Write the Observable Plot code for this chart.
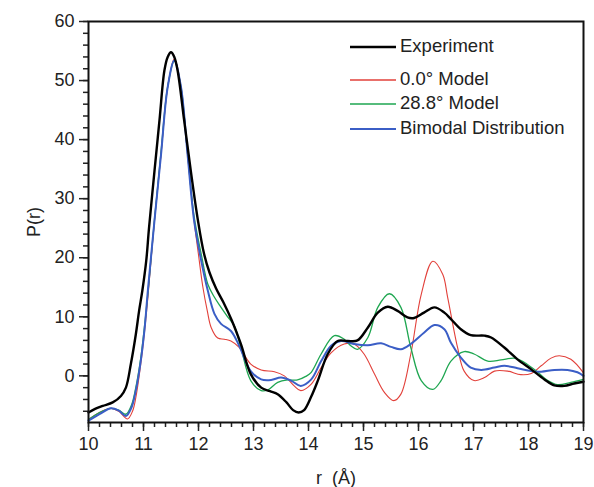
<!DOCTYPE html>
<html>
<head>
<meta charset="utf-8">
<script src="https://cdn.jsdelivr.net/npm/d3@7"></script>
<script src="https://cdn.jsdelivr.net/npm/@observablehq/plot@0.6"></script>
<style>
  html, body { margin: 0; padding: 0; background: #fff; }
  #wrap { position: relative; width: 594px; height: 487px; font-family: Arial, "Liberation Sans", sans-serif; }
  #legend { position: absolute; left: 350px; top: 35px; font-size: 18.5px; color: #222; }
  #legend .row { position: absolute; left: 0; white-space: nowrap; height: 22px; line-height: 22px; }
  #legend .sw { display: inline-block; width: 46px; vertical-align: middle; margin-right: 4px; }
</style>
</head>
<body>
<div id="wrap"><div id="legend"></div></div>
<script>
// ---- data ----
const seriesNames = ["Experiment", "0.0° Model", "28.8° Model", "Bimodal Distribution"];
const seriesColors = ["#000000", "#e2403a", "#1ea650", "#3b5ec6"];
const seriesWidths = [2.4, 1.1, 1.3, 2.0];

const rExp = [10, 10.12, 10.26, 10.44, 10.59, 10.68, 10.77, 10.86, 10.92, 10.98, 11.05, 11.1, 11.2, 11.29, 11.38, 11.44, 11.5, 11.56, 11.62, 11.74, 11.86, 11.99, 12.1, 12.2, 12.32, 12.45, 12.6, 12.77, 12.95, 13.14, 13.3, 13.44, 13.6, 13.72, 13.82, 13.92, 14.05, 14.17, 14.35, 14.53, 14.71, 14.89, 15.08, 15.26, 15.44, 15.62, 15.8, 15.92, 16.1, 16.29, 16.47, 16.59, 16.77, 16.95, 17.2, 17.32, 17.56, 17.8, 18.05, 18.29, 18.47, 18.65, 18.83, 19];
const pExp = [-6.2, -5.6, -5.1, -4.5, -3.4, -2.0, 2.0, 7.0, 11.0, 14.5, 19.5, 25.0, 34.7, 43.2, 51.7, 54.0, 54.8, 54.0, 51.7, 43.2, 34.7, 26.3, 20.7, 17.5, 14.8, 12.5, 9.5, 5.4, 0.3, -2.0, -2.6, -3.1, -4.5, -5.8, -6.2, -5.8, -3.5, -0.8, 3.7, 5.9, 5.9, 6.0, 8.2, 10.7, 11.7, 11.0, 9.9, 9.8, 10.7, 11.6, 10.7, 9.6, 7.9, 6.9, 6.8, 6.5, 4.8, 2.8, 1.1, -0.6, -1.6, -1.7, -1.3, -1.0];

const rM0 = [10, 10.2, 10.41, 10.55, 10.71, 10.8, 10.86, 10.95, 11.02, 11.08, 11.2, 11.32, 11.44, 11.56, 11.68, 11.8, 11.92, 12.0, 12.08, 12.16, 12.23, 12.35, 12.47, 12.59, 12.74, 12.95, 13.14, 13.38, 13.56, 13.74, 13.86, 14.05, 14.23, 14.41, 14.65, 14.83, 15.01, 15.2, 15.38, 15.55, 15.68, 15.86, 16.05, 16.26, 16.44, 16.53, 16.71, 16.83, 17.01, 17.2, 17.38, 17.62, 17.86, 18.05, 18.23, 18.41, 18.56, 18.77, 19];
const pM0 = [-7.4, -6.2, -5.5, -6.0, -7.3, -6.0, -3.7, 2.0, 7.6, 13.3, 26.3, 37.6, 48.9, 53.7, 49.0, 37.6, 26.3, 20.5, 15.0, 11.0, 8.2, 6.4, 6.2, 5.9, 4.8, 2.0, 1.0, 0.7, 0.0, -1.7, -2.5, -1.4, 1.4, 3.9, 5.4, 5.4, 3.7, 0.3, -2.8, -4.2, -3.1, 3.7, 13.8, 19.4, 17.2, 13.3, 4.8, 0.8, -0.8, -0.3, 0.8, 0.8, 0.2, 0.4, 1.7, 3.0, 3.4, 2.8, 0.5];

const rM28 = [10, 10.2, 10.41, 10.55, 10.68, 10.78, 10.86, 10.95, 11.02, 11.08, 11.2, 11.32, 11.44, 11.56, 11.68, 11.8, 11.92, 12.05, 12.17, 12.29, 12.41, 12.53, 12.65, 12.77, 12.95, 13.14, 13.26, 13.44, 13.62, 13.8, 13.95, 14.05, 14.23, 14.47, 14.65, 14.77, 14.89, 15.08, 15.26, 15.47, 15.68, 15.86, 16.05, 16.26, 16.41, 16.59, 16.83, 17.01, 17.26, 17.5, 17.74, 17.92, 18.17, 18.35, 18.53, 18.77, 19];
const pM28 = [-7.4, -6.2, -5.5, -5.8, -6.5, -5.0, -2.0, 3.0, 8.5, 14.0, 26.5, 38.0, 49.0, 53.3, 49.0, 37.8, 27.0, 20.6, 15.5, 13.3, 11.6, 10.0, 8.5, 4.8, -0.8, -2.5, -2.4, -1.1, -0.7, -0.7, -0.1, 0.6, 3.7, 6.8, 6.2, 5.1, 4.5, 6.5, 11.6, 13.9, 11.6, 4.8, -0.8, -2.3, -0.8, 2.5, 4.1, 3.7, 2.5, 2.7, 3.0, 2.3, 0.6, -0.8, -1.5, -1.1, -0.6];

const rBi = [10, 10.2, 10.41, 10.55, 10.68, 10.78, 10.86, 10.95, 11.02, 11.08, 11.2, 11.32, 11.44, 11.56, 11.68, 11.8, 11.92, 12.05, 12.17, 12.29, 12.41, 12.59, 12.74, 12.95, 13.14, 13.32, 13.5, 13.68, 13.86, 14.05, 14.23, 14.41, 14.59, 14.83, 15.08, 15.32, 15.5, 15.68, 15.86, 16.1, 16.29, 16.47, 16.59, 16.77, 16.95, 17.14, 17.38, 17.56, 17.8, 18.05, 18.23, 18.47, 18.71, 18.89, 19];
const pBi = [-7.6, -6.5, -5.5, -5.9, -6.8, -5.4, -2.5, 2.5, 8.0, 14.5, 26.3, 37.6, 48.9, 53.4, 49.0, 37.6, 26.3, 19.5, 14.4, 10.5, 8.8, 7.6, 5.1, 0.8, -0.6, -0.7, -0.3, -0.8, -1.7, -0.6, 2.5, 5.1, 5.9, 5.4, 5.2, 5.5, 4.9, 4.5, 5.4, 7.3, 8.6, 7.9, 5.6, 3.1, 1.4, 1.0, 1.4, 1.7, 1.3, 0.8, 0.7, 1.0, 1.0, 0.6, 0.0];

const xMajorTicks = [10, 11, 12, 13, 14, 15, 16, 17, 18, 19];
const yMajorTicks = [0, 10, 20, 30, 40, 50, 60];
const xMinorStep = 0.2;
const yMinorStep = 2;

// ---- build ----
const rs = [rExp, rM0, rM28, rBi];
const ps = [pExp, pM0, pM28, pBi];
const tables = rs.map((r, i) => r.map((x, j) => ({r: x, p: ps[i][j]})));

const xMinor = d3.range(10, 19.0001, xMinorStep).map(v => +v.toFixed(2));
const yMinor = d3.range(-6, 60.0001, yMinorStep);

const lineMarks = [1, 2, 3, 0].map(i =>
  Plot.line(tables[i], {x: "r", y: "p", stroke: seriesColors[i], strokeWidth: seriesWidths[i], curve: "catmull-rom"})
);

const chart = Plot.plot({
  width: 594,
  height: 487,
  marginLeft: 88,
  marginRight: 11,
  marginTop: 21,
  marginBottom: 65,
  style: {fontFamily: "Arial, 'Liberation Sans', sans-serif", fontSize: "19px", color: "#222", background: "#fff"},
  x: {domain: [10, 19]},
  y: {domain: [-7.9, 60]},
  marks: [
    Plot.axisX({ticks: xMinor, tickSize: 5, tickFormat: () => "", strokeWidth: 1.5, label: null}),
    Plot.axisX({ticks: xMajorTicks, tickSize: 9, tickPadding: 6, strokeWidth: 1.5, fontSize: 18, label: "r  (Å)", labelAnchor: "center", labelOffset: 61, labelArrow: "none"}),
    Plot.axisY({ticks: yMinor, tickSize: 5, tickFormat: () => "", strokeWidth: 1.5, label: null}),
    Plot.axisY({ticks: yMajorTicks, tickSize: 9, tickPadding: 5, strokeWidth: 1.5, fontSize: 18, label: "P(r)", labelAnchor: "center", labelOffset: 61, labelArrow: "none"}),
    ...lineMarks,
    Plot.frame({stroke: "#111", strokeWidth: 2})
  ]
});
document.getElementById("wrap").prepend(chart);

// legend overlay
const legendTops = [0, 33, 57, 82];
const leg = document.getElementById("legend");
seriesNames.forEach((name, i) => {
  const row = document.createElement("div");
  row.className = "row";
  row.style.top = legendTops[i] + "px";
  row.innerHTML = `<svg class="sw" width="46" height="4"><line x1="0" x2="46" y1="2" y2="2" stroke="${seriesColors[i]}" stroke-width="${Math.max(1.3, seriesWidths[i])}"/></svg>${name}`;
  leg.appendChild(row);
});
</script>
</body>
</html>
